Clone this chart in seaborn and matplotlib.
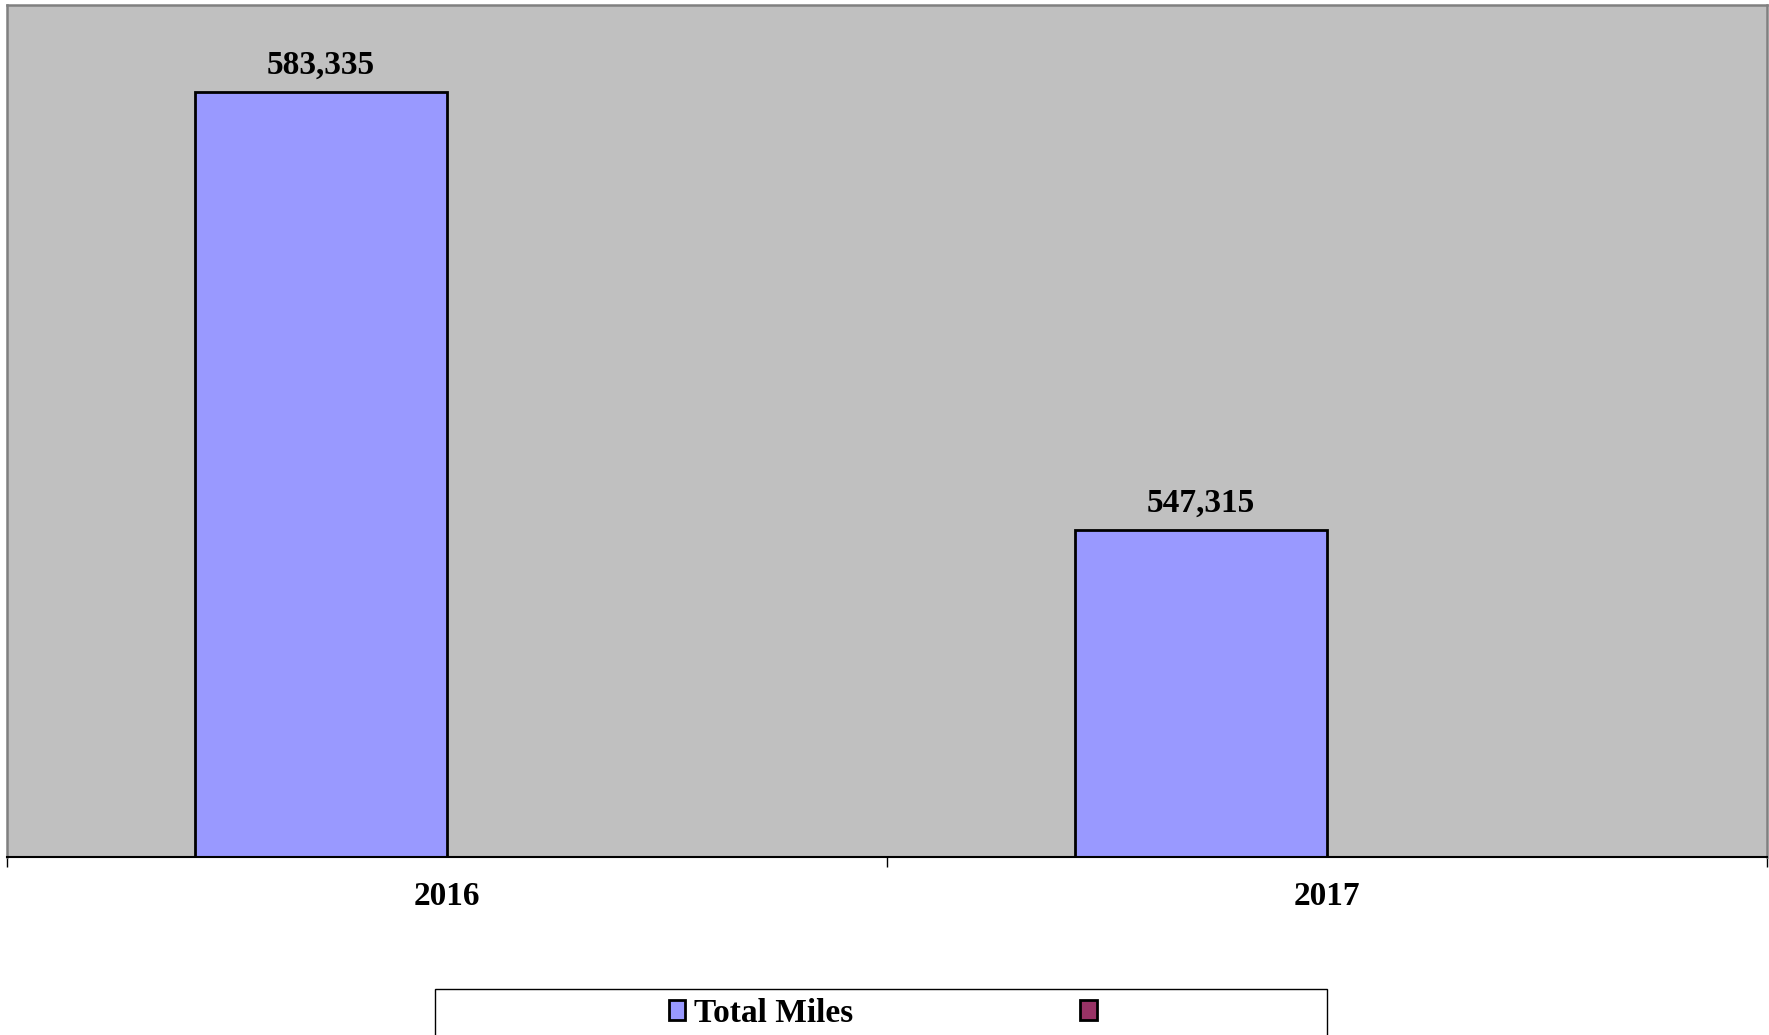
import numpy as np
import pandas as pd
import matplotlib
matplotlib.use("Agg")
import matplotlib.pyplot as plt
import seaborn as sns
from matplotlib.patches import Patch, Rectangle

# data
years = ["2016", "2017"]
total_miles = [583335, 547315]
other_series = [np.nan, np.nan]   # second legend entry, no values shown
series_names = ["Total Miles", " "]

df = pd.DataFrame({
    "Year": years * 2,
    "Value": total_miles + other_series,
    "Series": [series_names[0]] * 2 + [series_names[1]] * 2,
})

sns.set_style("white")
plt.rcParams['font.family'] = ['Liberation Serif', 'DejaVu Serif']
plt.rcParams['font.weight'] = 'bold'
plt.rcParams['text.color'] = 'black'
plt.rcParams['xtick.color'] = 'black'
plt.rcParams['xtick.labelcolor'] = 'black'

fig = plt.figure(figsize=(17.69, 10.35), dpi=100)
ax = fig.add_axes([7 / 1769, 1 - 857 / 1035, 1760 / 1769, 852 / 1035])

palette = {series_names[0]: "#9999FF", series_names[1]: "#993366"}
sns.barplot(data=df, x="Year", y="Value", hue="Series", hue_order=series_names,
            order=years, palette=palette, width=0.572, dodge=True,
            edgecolor="black", linewidth=2, saturation=1, legend=False, ax=ax)

ax.set_facecolor("#C0C0C0")
ax.set_ylim(520400, 590500)
ax.set_xlim(-0.5, 1.5)
ax.set_yticks([])
ax.set_ylabel("")
ax.set_xlabel("")

# category boundaries carry the tick marks, labels sit at the centres
ax.set_xticks([-0.5, 0.5, 1.5])
ax.set_xticklabels(["", "", ""])
ax.tick_params(axis="x", which="major", direction="out", length=7, width=1, color="black", bottom=True)
ax.set_xticks([0, 1], minor=True)
ax.set_xticklabels(years, minor=True, fontsize=24, fontweight="bold", color="black")
ax.tick_params(axis="x", which="minor", length=0, pad=17)

for side in ["left", "top", "right"]:
    ax.spines[side].set_color("#808080")
    ax.spines[side].set_linewidth(1.8)
ax.spines["bottom"].set_color("black")
ax.spines["bottom"].set_linewidth(1.5)

ax.bar_label(ax.containers[0], labels=[f"{v:,.0f}" for v in total_miles],
             padding=8, fontsize=24, fontweight="bold", color="black")

# legend
handles = [Patch(facecolor=palette[series_names[0]], edgecolor="black", linewidth=2),
           Patch(facecolor=palette[series_names[1]], edgecolor="black", linewidth=2)]
fig.legend(handles, ["Total Miles", ""], loc="center", ncol=2,
           bbox_to_anchor=(887 / 1769, 1 - 1013 / 1035), frameon=False,
           prop={"size": 24, "weight": "bold"}, handlelength=0.5, handleheight=0.55,
           handletextpad=0.25, columnspacing=6.83, borderpad=0, labelcolor="black")
fig.patches.append(Rectangle((435 / 1769, -0.05), 892 / 1769, 0.05 + 1 - 989 / 1035,
                             transform=fig.transFigure, fill=False,
                             edgecolor="black", linewidth=1))

fig.savefig("out.png", dpi=100, facecolor="white")
